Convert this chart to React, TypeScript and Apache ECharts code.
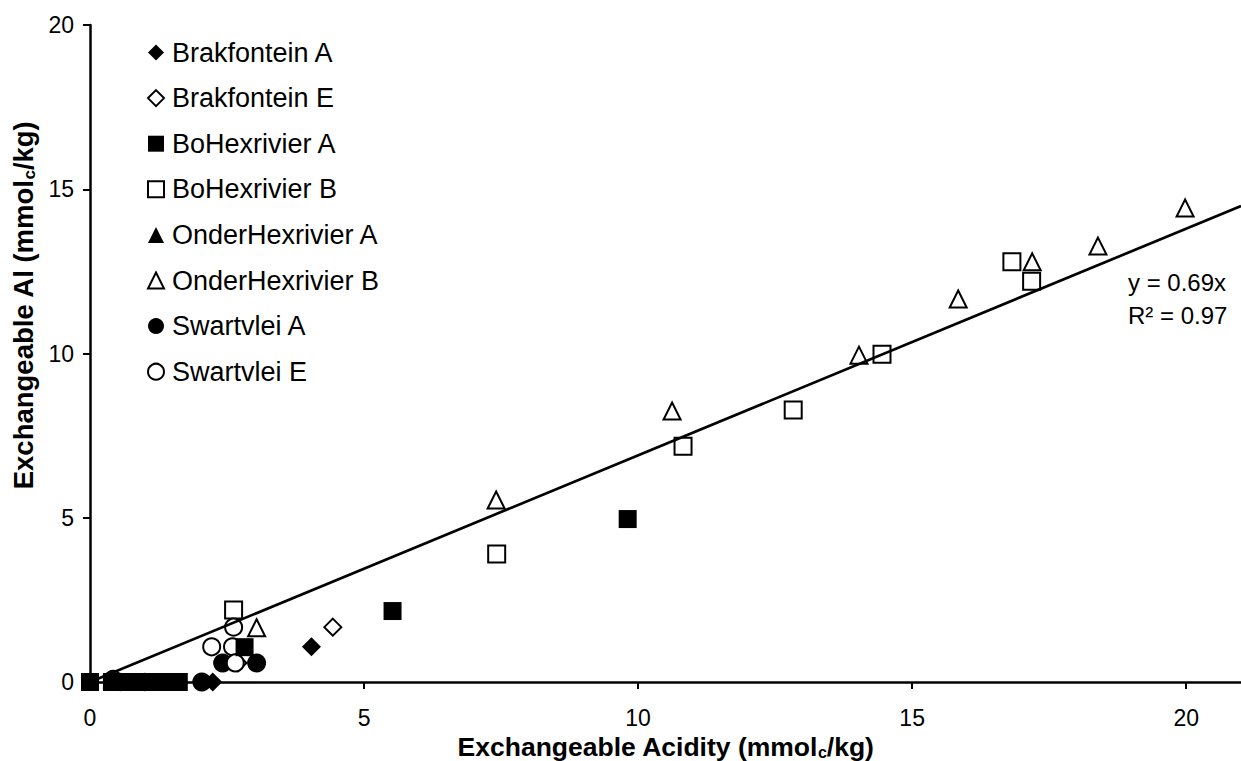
import React, { useEffect, useRef } from "react";
import * as echarts from "echarts";

const seriesNames = [
  "Brakfontein A",
  "Brakfontein E",
  "BoHexrivier A",
  "BoHexrivier B",
  "OnderHexrivier A",
  "OnderHexrivier B",
  "Swartvlei A",
  "Swartvlei E",
];

const brakfonteinA: number[][] = [[4.04, 1.07], [2.24, 0], [0.55, 0], [1.0, 0]];
const brakfonteinE: number[][] = [[4.43, 1.67], [2.7, 0.58], [0.45, 0.05]];
const boHexA: number[][] = [[9.81, 4.96], [5.52, 2.16], [2.82, 1.06], [0, 0], [0.4, 0], [0.7, 0], [1.0, 0], [1.3, 0], [1.62, 0]];
const boHexB: number[][] = [[17.18, 12.2], [16.82, 12.79], [14.45, 9.98], [12.83, 8.28], [10.82, 7.18], [7.42, 3.9], [2.62, 2.19]];
const onderA: number[][] = [[0.85, 0], [1.15, 0], [1.45, 0]];
const onderB: number[][] = [[19.98, 14.43], [18.39, 13.27], [17.19, 12.79], [15.84, 11.66], [14.03, 9.95], [10.62, 8.25], [7.41, 5.54], [3.04, 1.65]];
const swartvleiA: number[][] = [[2.42, 0.58], [3.04, 0.58], [2.04, 0]];
const swartvleiE: number[][] = [[2.62, 1.67], [2.22, 1.07], [2.6, 1.07], [2.65, 0.58], [0.42, 0.08]];

const trendSlope = 0.69;
const trendXRange = [0, 21];
const trendLabel = "y = 0.69x";
const r2Label = "R² = 0.97";

const xTicks = [0, 5, 10, 15, 20];
const yTicks = [0, 5, 10, 15, 20];

const FONT = "'Liberation Sans', Arial, Helvetica, sans-serif";
const W = 1241;
const H = 761;

export default function App() {
  const ref = useRef<HTMLDivElement>(null);

  useEffect(() => {
    if (!ref.current) return;
    const chart = echarts.init(ref.current, undefined, { renderer: "svg", width: W, height: H });

    const filled = { color: "#000", borderColor: "#000", borderWidth: 0, opacity: 1 };
    const open = { color: "#fff", borderColor: "#000", borderWidth: 2, opacity: 1 };

    const defs: [string, number[][], string, boolean, number][] = [
      [seriesNames[0], brakfonteinA, "diamond", true, 19],
      [seriesNames[1], brakfonteinE, "diamond", false, 17],
      [seriesNames[2], boHexA, "rect", true, 18],
      [seriesNames[3], boHexB, "rect", false, 17],
      [seriesNames[4], onderA, "triangle", true, 18],
      [seriesNames[5], onderB, "triangle", false, 17],
      [seriesNames[6], swartvleiA, "circle", true, 19],
      [seriesNames[7], swartvleiE, "circle", false, 17],
    ];

    const scatterSeries = defs.map(([name, data, symbol, isFilled, size]) => ({
      name,
      type: "scatter",
      data,
      symbol,
      symbolSize: size,
      itemStyle: isFilled ? filled : open,
      emphasis: { disabled: true },
      z: name === "BoHexrivier A" ? 4 : 3,
    }));

    const xRich = {
      t: { fontSize: 26.5, fontWeight: "bold", fontFamily: FONT, color: "#000", lineHeight: 27, verticalAlign: "bottom" },
      s: { fontSize: 16, fontWeight: "bold", fontFamily: FONT, color: "#000", lineHeight: 13, verticalAlign: "bottom" },
    };
    const yRich = {
      t: { fontSize: 27.5, fontWeight: "bold", fontFamily: FONT, color: "#000", lineHeight: 31, verticalAlign: "bottom" },
      s: { fontSize: 17, fontWeight: "bold", fontFamily: FONT, color: "#000", lineHeight: 14, verticalAlign: "bottom" },
    };

    chart.setOption({
      animation: false,
      backgroundColor: "#fff",
      textStyle: { fontFamily: FONT, color: "#000" },
      grid: { left: 90, right: 0, top: 25, bottom: 79, containLabel: false, outerBoundsMode: "none" },
      legend: {
        data: seriesNames,
        orient: "vertical",
        left: 142,
        top: 34,
        itemWidth: 16,
        itemHeight: 16,
        itemGap: 18.6,
        selectedMode: false,
        textStyle: { fontSize: 27, fontFamily: FONT, color: "#000", lineHeight: 27, padding: [0, 0, 0, 3] },
      },
      xAxis: {
        type: "value",
        min: 0,
        max: 21,
        interval: 5,
        name: "{t|Exchangeable Acidity (mmol}{s|c}{t|/kg)}",
        nameLocation: "middle",
        nameGap: 43,
        nameTextStyle: { rich: xRich },
        axisLine: { show: true, onZero: false, lineStyle: { color: "#000", width: 2.5 } },
        axisTick: { show: true, inside: false, length: 7, lineStyle: { color: "#000", width: 2 }, customValues: xTicks },
        axisLabel: { fontSize: 23, color: "#000", margin: 24, customValues: xTicks, fontFamily: FONT },
        splitLine: { show: false },
      },
      yAxis: {
        type: "value",
        min: 0,
        max: 20,
        interval: 5,
        name: "{t|Exchangeable Al (mmol}{s|c}{t|/kg)}",
        nameLocation: "middle",
        nameGap: 50,
        nameRotate: 90,
        nameTextStyle: { rich: yRich, padding: [0, 0, 0, 96] },
        axisLine: { show: true, onZero: false, lineStyle: { color: "#000", width: 2.5 } },
        axisTick: { show: true, inside: false, length: 7, lineStyle: { color: "#000", width: 2 }, customValues: yTicks },
        axisLabel: { fontSize: 23, color: "#000", margin: 16, customValues: yTicks, fontFamily: FONT },
        splitLine: { show: false },
      },
      series: [
        ...scatterSeries,
        {
          name: "Linear trend",
          type: "line",
          data: trendXRange.map((x) => [x, trendSlope * x]),
          symbol: "none",
          lineStyle: { color: "#000", width: 2.7 },
          z: 5,
          silent: true,
        },
      ],
      graphic: [
        {
          type: "text",
          left: 1128,
          top: 270,
          style: { text: trendLabel, fontSize: 24, fontFamily: FONT, fill: "#000" },
        },
        {
          type: "text",
          left: 1128,
          top: 303,
          style: { text: r2Label, fontSize: 24, fontFamily: FONT, fill: "#000" },
        },
      ],
    });

    return () => chart.dispose();
  }, []);

  return (
    <div
      ref={ref}
      style={{ position: "absolute", left: 0, top: 0, width: W, height: H, background: "#fff" }}
    />
  );
}
